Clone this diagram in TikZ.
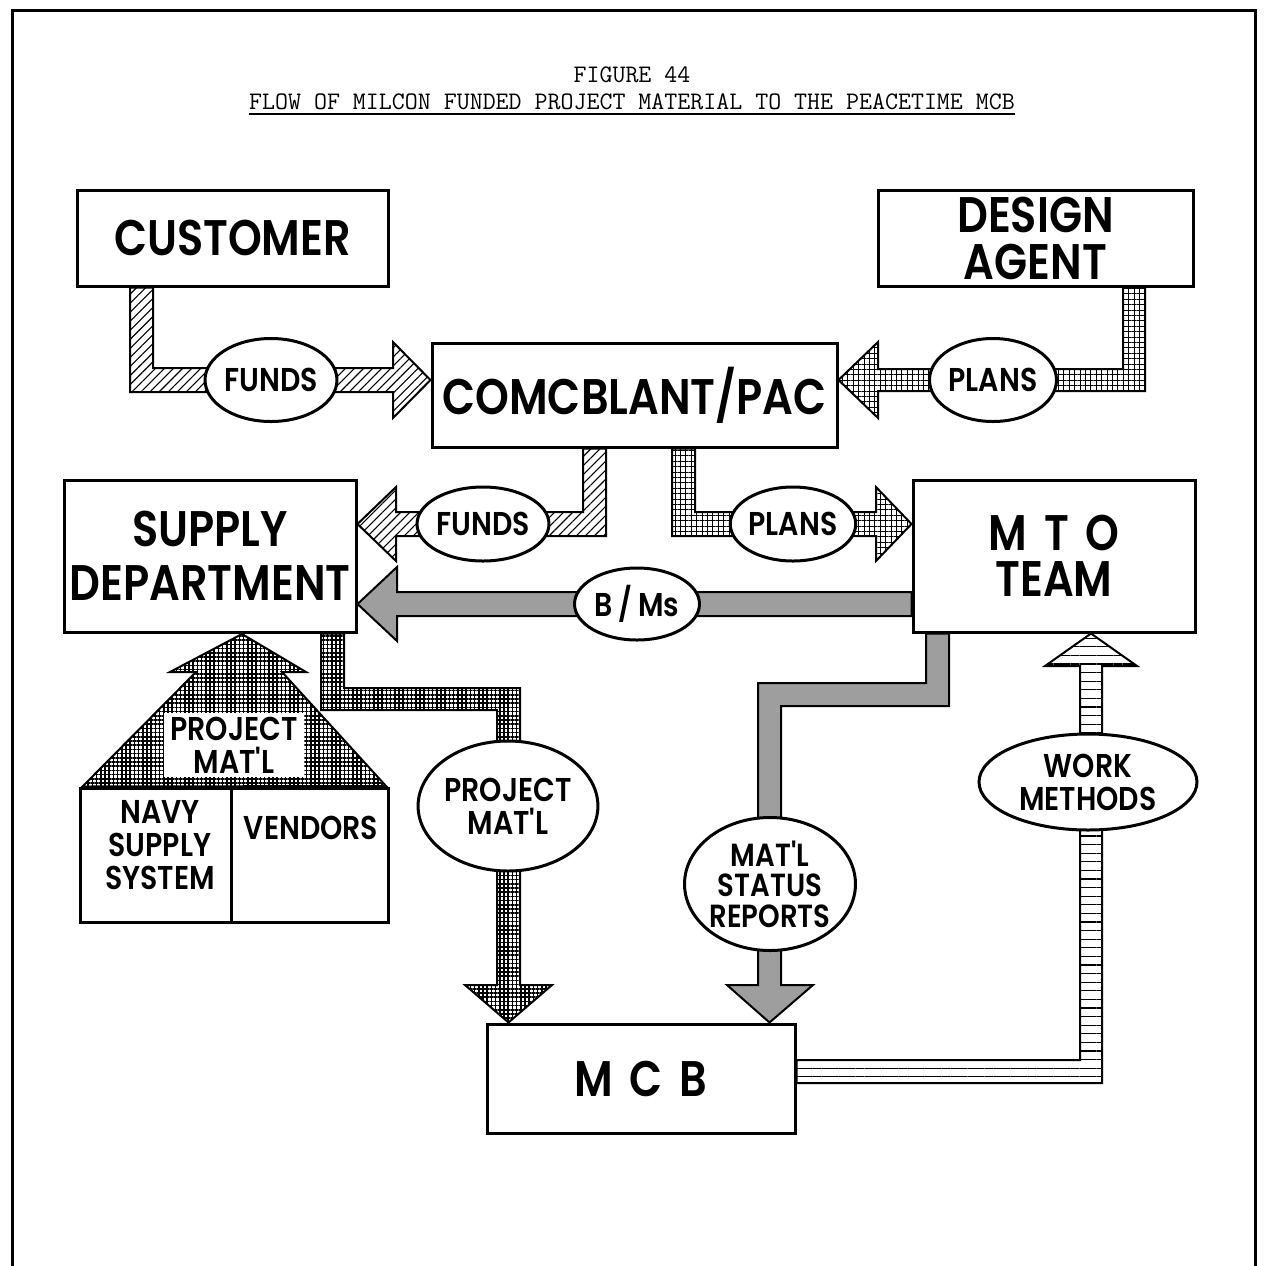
\documentclass[tikz,border=0pt]{standalone}
\usepackage{fontspec}
\usetikzlibrary{shapes.geometric,patterns.meta,calc}
\newfontfamily\lblfont{Poppins SemiBold}[FakeStretch=0.86]
\begin{document}
\begin{tikzpicture}[x=0.5pt,y=-0.5pt,
  box/.style={draw, line width=1.5pt, inner sep=0pt, align=center,
    font=\lblfont\fontsize{25}{22}\selectfont},
  oval/.style={ellipse, draw, fill=white, line width=1.5pt, inner sep=0pt, align=center,
    font=\lblfont\fontsize{16.5}{16.5}\selectfont},
  hlbl/.style={inner sep=0pt, align=center, font=\lblfont\fontsize{16.5}{16.5}\selectfont},
  flow/.style={draw, line width=1pt, line join=miter},
  fundpat/.style={pattern={Lines[angle=45,distance=3.2pt,line width=0.55pt]}},
  planpat/.style={pattern={Hatch[angle=0,distance=2.7pt,line width=0.5pt]}},
  matpat/.style={pattern={Hatch[angle=0,distance=2.1pt,line width=0.8pt]}},
  graypat/.style={fill=black!38},
  workpat/.style={pattern={Lines[angle=0,distance=4.3pt,line width=0.6pt]}},
  title/.style={inner sep=0pt, font=\ttfamily\fontsize{12.6}{14}\selectfont}
]
\useasboundingbox[fill=white] (0,0) rectangle (1265,1266);
\draw[line width=1.5pt] (12,1266) -- (12,10) -- (1255,10) -- (1255,1266);

% title
\node[title] (fig) at (632,75) {FIGURE 44};
\node[title] (ttl) at (632,102) {FLOW OF MILCON FUNDED PROJECT MATERIAL TO THE PEACETIME MCB};
\draw[line width=0.8pt] (ttl.south west |- 0,114) -- (ttl.south east |- 0,114);

% boxes
\node[box, minimum width=155.5pt, minimum height=48pt] (cust) at (232.5,238) {CUSTOMER};
\node[box, minimum width=157.5pt, minimum height=48pt, font=\lblfont\fontsize{25}{23.5}\selectfont] (design) at (1035.5,238) {DESIGN\\AGENT};
\node[box, minimum width=202.5pt, minimum height=52pt] (com) at (634.5,395) {COMCBLANT/PAC};
\node[box, minimum width=146pt, minimum height=76pt, font=\lblfont\fontsize{25}{27}\selectfont] (supply) at (210,556) {SUPPLY\\DEPARTMENT};
\node[box, minimum width=141pt, minimum height=76pt, font=\lblfont\fontsize{25}{23}\selectfont] (mto) at (1054,556) {M\,\,T\,\,O\\TEAM};
\node[box, minimum width=154pt, minimum height=54.5pt] (mcb) at (641,1078.5) {M\,\,C\,\,B};

% house
\node[draw, line width=1.5pt, minimum width=75.5pt, minimum height=67pt, inner sep=0pt] (navy) at (155.5,855) {};
\node[draw, line width=1.5pt, minimum width=78.5pt, minimum height=67pt, inner sep=0pt] (vend) at (309.5,855) {};
\node[hlbl] (navytxt) at (160,845) {NAVY\\SUPPLY\\SYSTEM};
\node[hlbl] (vendtxt) at (311,828) {VENDORS};
\path[flow, matpat] (navy.north west) ++(4,0) coordinate (rl) -- (196,672) -- (170,672) -- (242,634) coordinate (rtip) -- (306,672) -- (282,672) -- (386,786) coordinate (rr) -- cycle;
\node[hlbl, fill=white, inner xsep=3pt, inner ysep=2pt] (roof) at (234,745) {PROJECT\\MAT'L};

% funds: customer -> comcblant
\path[flow, fundpat] (130,0 |- cust.south) -- (130,392) -- (393,392) -- (393,418) -- (com.west |- 0,380) -- (393,342) -- (393,368) -- (153,368) -- (153,0 |- cust.south) -- cycle;
\node[oval, minimum width=61.5pt, minimum height=41.5pt] (f1) at (271,380) {FUNDS};

% plans: design agent -> comcblant
\path[flow, planpat] (1145,0 |- design.south) -- (1145,391) -- (878,391) -- (878,418) -- (com.east |- 0,380) -- (878,342) -- (878,369) -- (1123,369) -- (1123,0 |- design.south) -- cycle;
\node[oval, minimum width=63.5pt, minimum height=41.5pt] (p1) at (993,380) {PLANS};

% funds: comcblant -> supply
\path[flow, fundpat] (606,0 |- com.south) -- (606,536) -- (396,536) -- (396,561) -- (supply.east |- 0,524) -- (396,487) -- (396,512) -- (583,512) -- (583,0 |- com.south) -- cycle;
\node[oval, minimum width=61.5pt, minimum height=37pt] (f2) at (483,524) {FUNDS};

% plans: comcblant -> mto
\path[flow, planpat] (672,0 |- com.south) -- (672,536) -- (876,536) -- (876,561) -- (mto.west |- 0,524) -- (876,487) -- (876,512) -- (695,512) -- (695,0 |- com.south) -- cycle;
\node[oval, minimum width=62.5pt, minimum height=37pt] (p2) at (793,524) {PLANS};

% B/Ms: mto -> supply
\path[flow, graypat] (mto.west |- 0,592) -- (397,592) -- (397,567) -- (supply.east |- 0,604) -- (397,641) -- (397,616) -- (mto.west |- 0,616) -- cycle;
\node[oval, minimum width=62.5pt, minimum height=36pt] (bm) at (637,604) {B\,/\,Ms};

% project mat'l: supply -> mcb
\path[flow, matpat] (321,0 |- supply.south) -- (321,710) -- (497,710) -- (497,985) -- (465,985) -- (508.5,0 |- mcb.north) -- (552,985) -- (520,985) -- (520,688) -- (344,688) -- (344,0 |- supply.south) -- cycle;
\node[oval, minimum width=88.5pt, minimum height=65pt] (pm) at (508,806) {PROJECT\\MAT'L};

% status reports: mto -> mcb
\path[flow, graypat] (949,0 |- mto.south) -- (949,706) -- (781,706) -- (781,985) -- (813,985) -- (769.5,0 |- mcb.north) -- (727,985) -- (758,985) -- (758,683) -- (926,683) -- (926,0 |- mto.south) -- cycle;
\node[oval, minimum width=85pt, minimum height=66.5pt, font=\lblfont\fontsize{16}{15.2}\selectfont] (sr) at (770,884) {MAT'L\\STATUS\\REPORTS};

% work methods: mcb -> mto
\path[flow, workpat] (mcb.east |- 0,1083) -- (1102,1083) -- (1102,666) -- (1137,666) -- (1091,0 |- mto.south) -- (1045,666) -- (1080,666) -- (1080,1060) -- (mcb.east |- 0,1060) -- cycle;
\node[oval, minimum width=109pt, minimum height=48pt] (wm) at (1088,782) {WORK\\METHODS};
\end{tikzpicture}
\end{document}
